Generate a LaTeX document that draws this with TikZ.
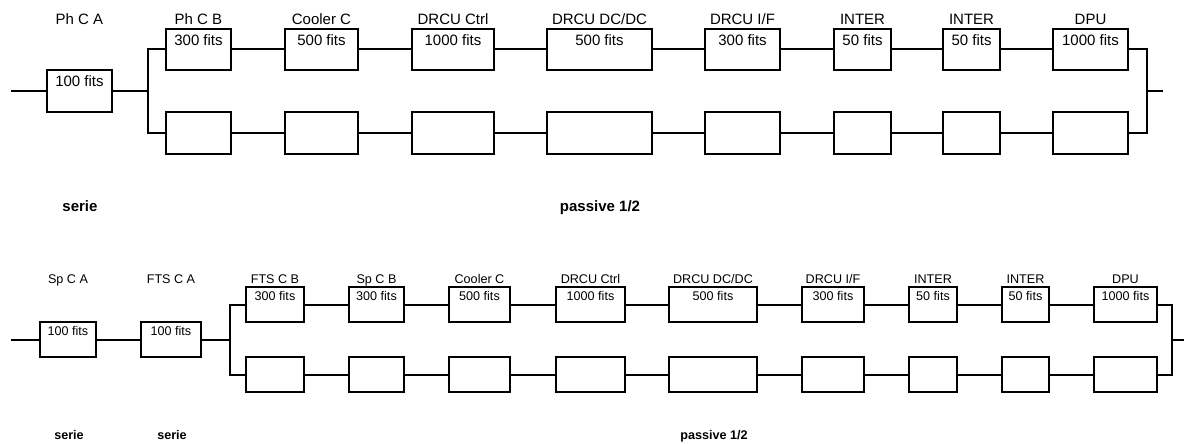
\documentclass[tikz,border=0pt]{standalone}
\usepackage{fontspec}
\setmainfont{Liberation Sans}
\begin{document}
\begin{tikzpicture}[x=1pt,y=-1pt,
  blk/.style={draw, line width=2pt, inner sep=0pt, outer sep=0pt, rectangle},
  wire/.style={line width=2pt},
  ttlA/.style={anchor=base, inner sep=0pt, font=\fontsize{15}{18}\selectfont},
  ttlB/.style={anchor=base, inner sep=0pt, font=\fontsize{12.6}{15}\selectfont},
  modeA/.style={anchor=base, inner sep=0pt, font=\fontsize{15}{18}\selectfont\bfseries},
  modeB/.style={anchor=base, inner sep=0pt, font=\fontsize{12.6}{15}\selectfont\bfseries}
]
\useasboundingbox (0,0) rectangle (1184,444);

% ---------- upper chain: Ph C A in series, then two redundant branches ----------
\coordinate (inA) at (11,91);
\coordinate (sA) at (148,91);
\coordinate (mA) at (1147,91);
\coordinate (oA) at (1163,91);
\node[blk, minimum width=65, minimum height=42] (pa) at (79.5,91) {};
\node[ttlA] at (pa.center |- 0,25) {Ph C A};
\node[ttlA] at ([yshift=-16.5pt]pa.north) {100 fits};

\foreach \i/\xa/\xb/\ttl/\fit in {
  1/166/231/{Ph C B}/{300 fits},
  2/285/358/{Cooler C}/{500 fits},
  3/412/494/{DRCU Ctrl}/{1000 fits},
  4/547/652/{DRCU DC/DC}/{500 fits},
  5/705/780/{DRCU I/F}/{300 fits},
  6/834/891/{INTER}/{50 fits},
  7/943/1000/{INTER}/{50 fits},
  8/1053/1128/{DPU}/{1000 fits}} {
  \node[blk, minimum width={\xb-\xa}, minimum height=41] (t\i) at ({(\xa+\xb)/2},49.5) {};
  \node[blk, minimum width={\xb-\xa}, minimum height=42] (u\i) at ({(\xa+\xb)/2},133) {};
  \node[ttlA] at (t\i.center |- 0,25) {\ttl};
  \node[ttlA] at ([yshift=-16.5pt]t\i.north) {\fit};
}

\draw[wire] (inA) -- (pa.west);
\draw[wire] (pa.east) -- (sA);
\draw[wire] (t1.west) -| (sA) |- (u1.west);
\foreach \i [count=\j from 2] in {1,...,7} {
  \draw[wire] (t\i.east) -- (t\j.west);
  \draw[wire] (u\i.east) -- (u\j.west);
}
\draw[wire] (t8.east) -| (mA) |- (u8.east);
\draw[wire] (mA) -- (oA);

\node[modeA] at (80,211) {serie};
\node[modeA] at (600,211) {passive 1/2};

% ---------- lower chain: Sp C A and FTS C A in series, then two redundant branches ----------
\coordinate (inB) at (11,339.5);
\coordinate (sB) at (230,339.5);
\coordinate (mB) at (1172,339.5);
\coordinate (oB) at (1184,339.5);
\node[blk, minimum width=56, minimum height=35] (sa) at (68,339.5) {};
\node[blk, minimum width=60, minimum height=35] (fa) at (171,339.5) {};
\node[ttlB] at (sa.center |- 0,283) {Sp C A};
\node[ttlB] at (fa.center |- 0,283) {FTS C A};
\node[ttlB] at ([yshift=-13pt]sa.north) {100 fits};
\node[ttlB] at ([yshift=-13pt]fa.north) {100 fits};

\foreach \i/\xa/\xb/\ttl/\fit in {
  1/246/304/{FTS C B}/{300 fits},
  2/349/404/{Sp C B}/{300 fits},
  3/449/510/{Cooler C}/{500 fits},
  4/556/625/{DRCU Ctrl}/{1000 fits},
  5/669/757/{DRCU DC/DC}/{500 fits},
  6/802/864/{DRCU I/F}/{300 fits},
  7/909/957/{INTER}/{50 fits},
  8/1002/1049/{INTER}/{50 fits},
  9/1094/1157/{DPU}/{1000 fits}} {
  \node[blk, minimum width={\xb-\xa}, minimum height=35] (p\i) at ({(\xa+\xb)/2},304.5) {};
  \node[blk, minimum width={\xb-\xa}, minimum height=35] (q\i) at ({(\xa+\xb)/2},374.5) {};
  \node[ttlB] at (p\i.center |- 0,283) {\ttl};
  \node[ttlB] at ([yshift=-13pt]p\i.north) {\fit};
}

\draw[wire] (inB) -- (sa.west);
\draw[wire] (sa.east) -- (fa.west);
\draw[wire] (fa.east) -- (sB);
\draw[wire] (p1.west) -| (sB) |- (q1.west);
\foreach \i [count=\j from 2] in {1,...,8} {
  \draw[wire] (p\i.east) -- (p\j.west);
  \draw[wire] (q\i.east) -- (q\j.west);
}
\draw[wire] (p9.east) -| (mB) |- (q9.east);
\draw[wire] (mB) -- (oB);

\node[modeB] at (69,439) {serie};
\node[modeB] at (172,439) {serie};
\node[modeB] at (714,439) {passive 1/2};
\end{tikzpicture}
\end{document}
